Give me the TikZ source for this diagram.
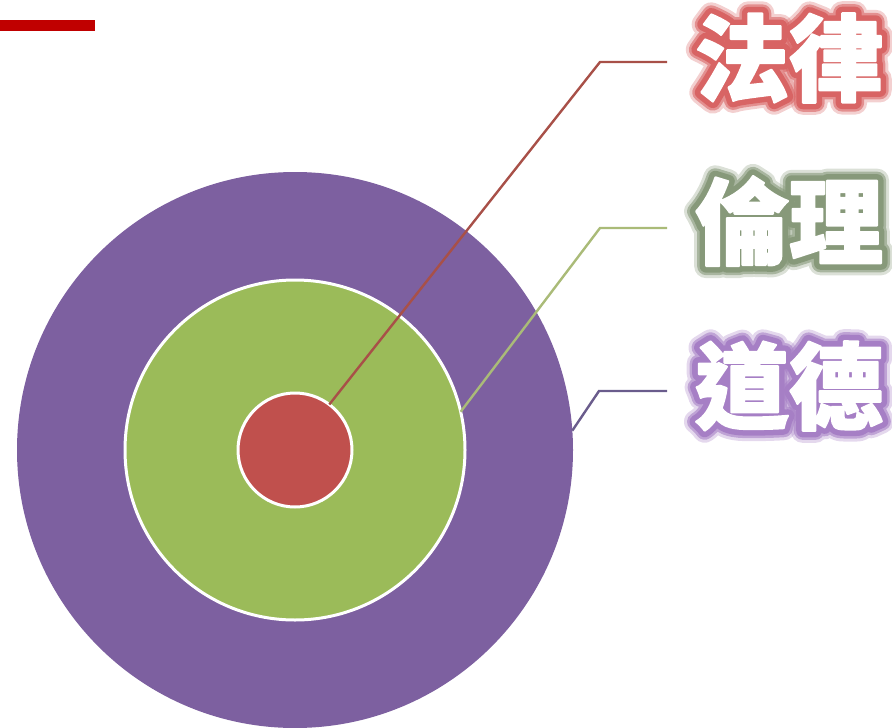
\documentclass[tikz,border=0pt]{standalone}
\usepackage{fontspec}
\newfontfamily\cjk{Noto Sans CJK TC}
\definecolor{barred}{HTML}{C00000}
\definecolor{outerp}{HTML}{7D60A0}
\definecolor{midg}{HTML}{9BBB59}
\definecolor{innr}{HTML}{C0504D}
\definecolor{leadr}{HTML}{A85048}
\definecolor{leadg}{HTML}{AABB78}
\definecolor{leadp}{HTML}{6A5C8C}
\definecolor{glowr}{HTML}{D86464}
\definecolor{glowg}{HTML}{87997A}
\definecolor{glowp}{HTML}{A67FC5}
\newcommand\glowtext[2]{\special{pdf:literal direct q 2 Tr #1 w 1 j 1 J}#2\special{pdf:literal direct Q}}
\newcommand\glowlabel[4]{% name, position, colour, text
  \begin{scope}[opacity=0.3]
    \node[lbl,text=#3] (#1a) at (#2) {\glowtext{24}{#4}};
  \end{scope}
  \begin{scope}[opacity=0.6]
    \node[lbl,text=#3] (#1b) at (#2) {\glowtext{18}{#4}};
  \end{scope}
  \node[lbl,text=#3] (#1c) at (#2) {\glowtext{13}{#4}};
  \node[lbl,text=white] (#1) at (#2) {\glowtext{2}{#4}};
}
\begin{document}
\begin{tikzpicture}[x=1pt,y=-1pt,
  ring/.style={circle,inner sep=0pt,outer sep=0pt},
  lead/.style={line width=2.4pt},
  lbl/.style={inner sep=0pt,outer sep=0pt,font=\cjk\bfseries\fontsize{94}{94}\selectfont}]
\useasboundingbox (0,0) rectangle (892,728);
\node[fill=barred,minimum width=95pt,minimum height=11pt,inner sep=0pt,outer sep=0pt,anchor=north west] (bar) at (0,20) {};
\node[ring,fill=outerp,minimum size=556pt] (outer) at (295,450) {};
\node[ring,fill=midg,draw=white,line width=3pt,minimum size=340pt] (mid) at (295,450) {};
\node[ring,fill=innr,draw=white,line width=3pt,minimum size=114pt] (inner) at (295,450) {};
\coordinate (k1) at (600,62);  \coordinate (e1) at (667,62);
\coordinate (k2) at (600,228); \coordinate (e2) at (667,228);
\coordinate (k3) at (599,391); \coordinate (e3) at (667,391);
\draw[lead,leadr] (inner.53.7) -- (k1) -- (e1);
\draw[lead,leadg] (mid.13.6) -- (k2) -- (e2);
\draw[lead,leadp] (outer.4) -- (k3) -- (e3);
\glowlabel{law}{789,58}{glowr}{法律}
\glowlabel{eth}{789,221}{glowg}{倫理}
\glowlabel{mor}{789,386}{glowp}{道德}
\end{tikzpicture}
\end{document}
